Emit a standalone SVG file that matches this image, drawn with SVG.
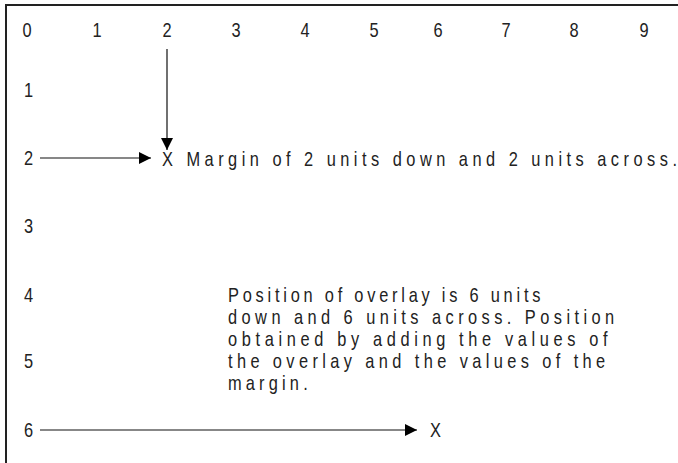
<svg xmlns="http://www.w3.org/2000/svg" width="678" height="463" viewBox="0 0 678 463">
<style>
text{font-family:"Liberation Sans",Arial,sans-serif;font-size:20px;fill:#222}
.lbl{text-anchor:middle}
.sp{letter-spacing:5.1px}
.c{stroke:#111;stroke-width:1.2;fill:none}
</style>
<defs>
<marker id="ah" markerUnits="userSpaceOnUse" markerWidth="13" markerHeight="13" refX="12" refY="6" orient="auto">
<path d="M0,0 L12,6 L0,12 z" fill="#000"/>
</marker>
</defs>
<rect width="678" height="463" fill="#fff"/>
<g id="border"><path d="M6,463 V5 H678" fill="none" stroke="#222" stroke-width="2"/></g>
<g id="columns">
<text class="lbl" transform="translate(27,37) scale(.82,1)">0</text>
<text class="lbl" transform="translate(97,37) scale(.82,1)">1</text>
<text class="lbl" transform="translate(167,37) scale(.82,1)">2</text>
<text class="lbl" transform="translate(236,37) scale(.82,1)">3</text>
<text class="lbl" transform="translate(305,37) scale(.82,1)">4</text>
<text class="lbl" transform="translate(374,37) scale(.82,1)">5</text>
<text class="lbl" transform="translate(438,37) scale(.82,1)">6</text>
<text class="lbl" transform="translate(506,37) scale(.82,1)">7</text>
<text class="lbl" transform="translate(574,37) scale(.82,1)">8</text>
<text class="lbl" transform="translate(644,37) scale(.82,1)">9</text>
</g>
<g id="rows">
<text transform="translate(24,97) scale(.82,1)">1</text>
<text transform="translate(24,165) scale(.82,1)">2</text>
<text transform="translate(24,233) scale(.82,1)">3</text>
<text transform="translate(24,302) scale(.82,1)">4</text>
<text transform="translate(24,368) scale(.82,1)">5</text>
<text transform="translate(24,437) scale(.82,1)">6</text>
</g>
<g id="connectors">
<line class="c" x1="167" y1="49" x2="167" y2="150" marker-end="url(#ah)"/>
<line class="c" x1="40" y1="158" x2="151" y2="158" marker-end="url(#ah)"/>
<line class="c" x1="40" y1="430" x2="417" y2="430" marker-end="url(#ah)"/>
</g>
<g id="margin-note"><text transform="translate(162,166) scale(.82,1)" textLength="628" lengthAdjust="spacing">X Margin of 2 units down and 2 units across.</text></g>
<g id="overlay-note">
<text transform="translate(228,302) scale(.82,1)" textLength="381" lengthAdjust="spacing">Position of overlay is 6 units</text>
<text transform="translate(228,324) scale(.82,1)" textLength="471" lengthAdjust="spacing">down and 6 units across. Position</text>
<text transform="translate(228,346) scale(.82,1)" textLength="463" lengthAdjust="spacing">obtained by adding the values of</text>
<text transform="translate(228,368) scale(.82,1)" textLength="460" lengthAdjust="spacing">the overlay and the values of the</text>
<text class="sp" transform="translate(228,390) scale(.82,1)">margin.</text>
</g>
<g id="overlay-x"><text transform="translate(430,437) scale(.82,1)">X</text></g>
</svg>
